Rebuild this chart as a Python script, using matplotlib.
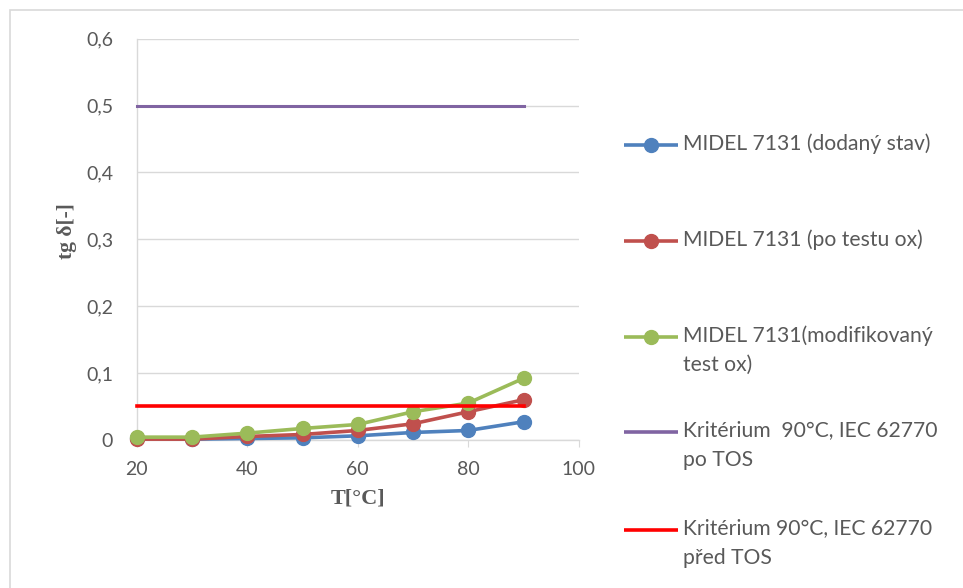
import matplotlib
matplotlib.use('Agg')
import matplotlib.pyplot as plt
from matplotlib.lines import Line2D
from matplotlib.patches import Rectangle

# data
teploty = [20, 30, 40, 50, 60, 70, 80, 90]
dodany = [0.002, 0.001, 0.002, 0.003, 0.006, 0.011, 0.014, 0.027]
po_testu = [0.001, 0.001, 0.005, 0.008, 0.014, 0.024, 0.042, 0.060]
modifikovany = [0.004, 0.004, 0.010, 0.017, 0.023, 0.042, 0.055, 0.092]
krit_po_tos = [0.5, 0.5]
krit_pred_tos = [0.05, 0.05]
krit_x = [20, 90]

labels = ["MIDEL 7131 (dodaný stav)",
          "MIDEL 7131 (po testu ox)",
          "MIDEL 7131(modifikovaný\ntest ox)",
          "Kritérium  90°C, IEC 62770\npo TOS",
          "Kritérium 90°C, IEC 62770\npřed TOS"]
y_ticks = [0, 0.1, 0.2, 0.3, 0.4, 0.5, 0.6]
y_ticklabels = ["0", "0,1", "0,2", "0,3", "0,4", "0,5", "0,6"]
x_ticks = [20, 40, 60, 80, 100]

c_blue, c_red, c_green, c_purple, c_krit = '#4F81BD', '#C0504D', '#9BBB59', '#8064A2', '#FF0000'
txt_grey = '#595959'

plt.rcParams['font.family'] = ['Lato', 'DejaVu Sans']

fig = plt.figure(figsize=(9.63, 5.88), dpi=100)
ax = fig.add_axes([0.142, 0.252, 0.459, 0.682])

# outer frame of the chart area
fig.patches.append(Rectangle((10/963, -0.01), 1.0, 1 - 10/588 + 0.01, transform=fig.transFigure,
                             fill=False, edgecolor='#D9D9D9', linewidth=1.2))

mk = dict(marker='o', markersize=10, linewidth=2.6)
ax.plot(teploty, dodany, color=c_blue, zorder=3, **mk)
ax.plot(teploty, po_testu, color=c_red, zorder=4, **mk)
ax.plot(teploty, modifikovany, color=c_green, zorder=5, **mk)
ax.plot(krit_x, krit_po_tos, color=c_purple, linewidth=2.2, zorder=3)
ax.plot(krit_x, krit_pred_tos, color=c_krit, linewidth=2.6, zorder=6)

ax.set_xlim(20, 100)
ax.set_ylim(0, 0.6)
ax.set_yticks(y_ticks)
ax.set_yticklabels(y_ticklabels)
ax.set_xticks(x_ticks)
ax.grid(axis='y', color='#D9D9D9', linewidth=1)
ax.set_axisbelow(True)
for s in ['top', 'right']:
    ax.spines[s].set_visible(False)
for s in ['left', 'bottom']:
    ax.spines[s].set_color('#D9D9D9')
    ax.spines[s].set_linewidth(1)
ax.tick_params(axis='y', length=0, labelsize=14, labelcolor=txt_grey, pad=17)
ax.tick_params(axis='x', length=5, color='#D9D9D9', labelsize=14, labelcolor=txt_grey, pad=10)
for ln in ax.lines:
    ln.set_clip_on(False)

ax.set_ylabel('tg δ[-]', family=['Liberation Serif', 'DejaVu Serif'], fontweight='bold',
              fontsize=15.5, color=txt_grey)
ax.yaxis.set_label_coords(-0.135, 0.52)
ax.set_xlabel('T[°C]', family=['Liberation Serif', 'DejaVu Serif'], fontweight='bold',
              fontsize=16, color=txt_grey, labelpad=8)

# legend drawn by hand: handle aligned with the first text line, as in Excel
leg_colors = [c_blue, c_red, c_green, c_purple, c_krit]
leg_marker = [True, True, True, False, False]
leg_y = [145, 241, 337, 432, 530]
for lab, col, m, yp in zip(labels, leg_colors, leg_marker, leg_y):
    yf = 1 - yp / 588
    fig.add_artist(Line2D([624/963, 678/963], [yf, yf], transform=fig.transFigure,
                          color=col, linewidth=2.6, solid_capstyle='butt'))
    if m:
        fig.add_artist(Line2D([651/963], [yf], transform=fig.transFigure, color=col,
                              marker='o', markersize=10, linestyle='none'))
    fig.text(683/963, yf + 12/588, lab, fontsize=15.2, color=txt_grey, va='top',
             linespacing=1.6, transform=fig.transFigure)

fig.savefig('out.png', dpi=100)
